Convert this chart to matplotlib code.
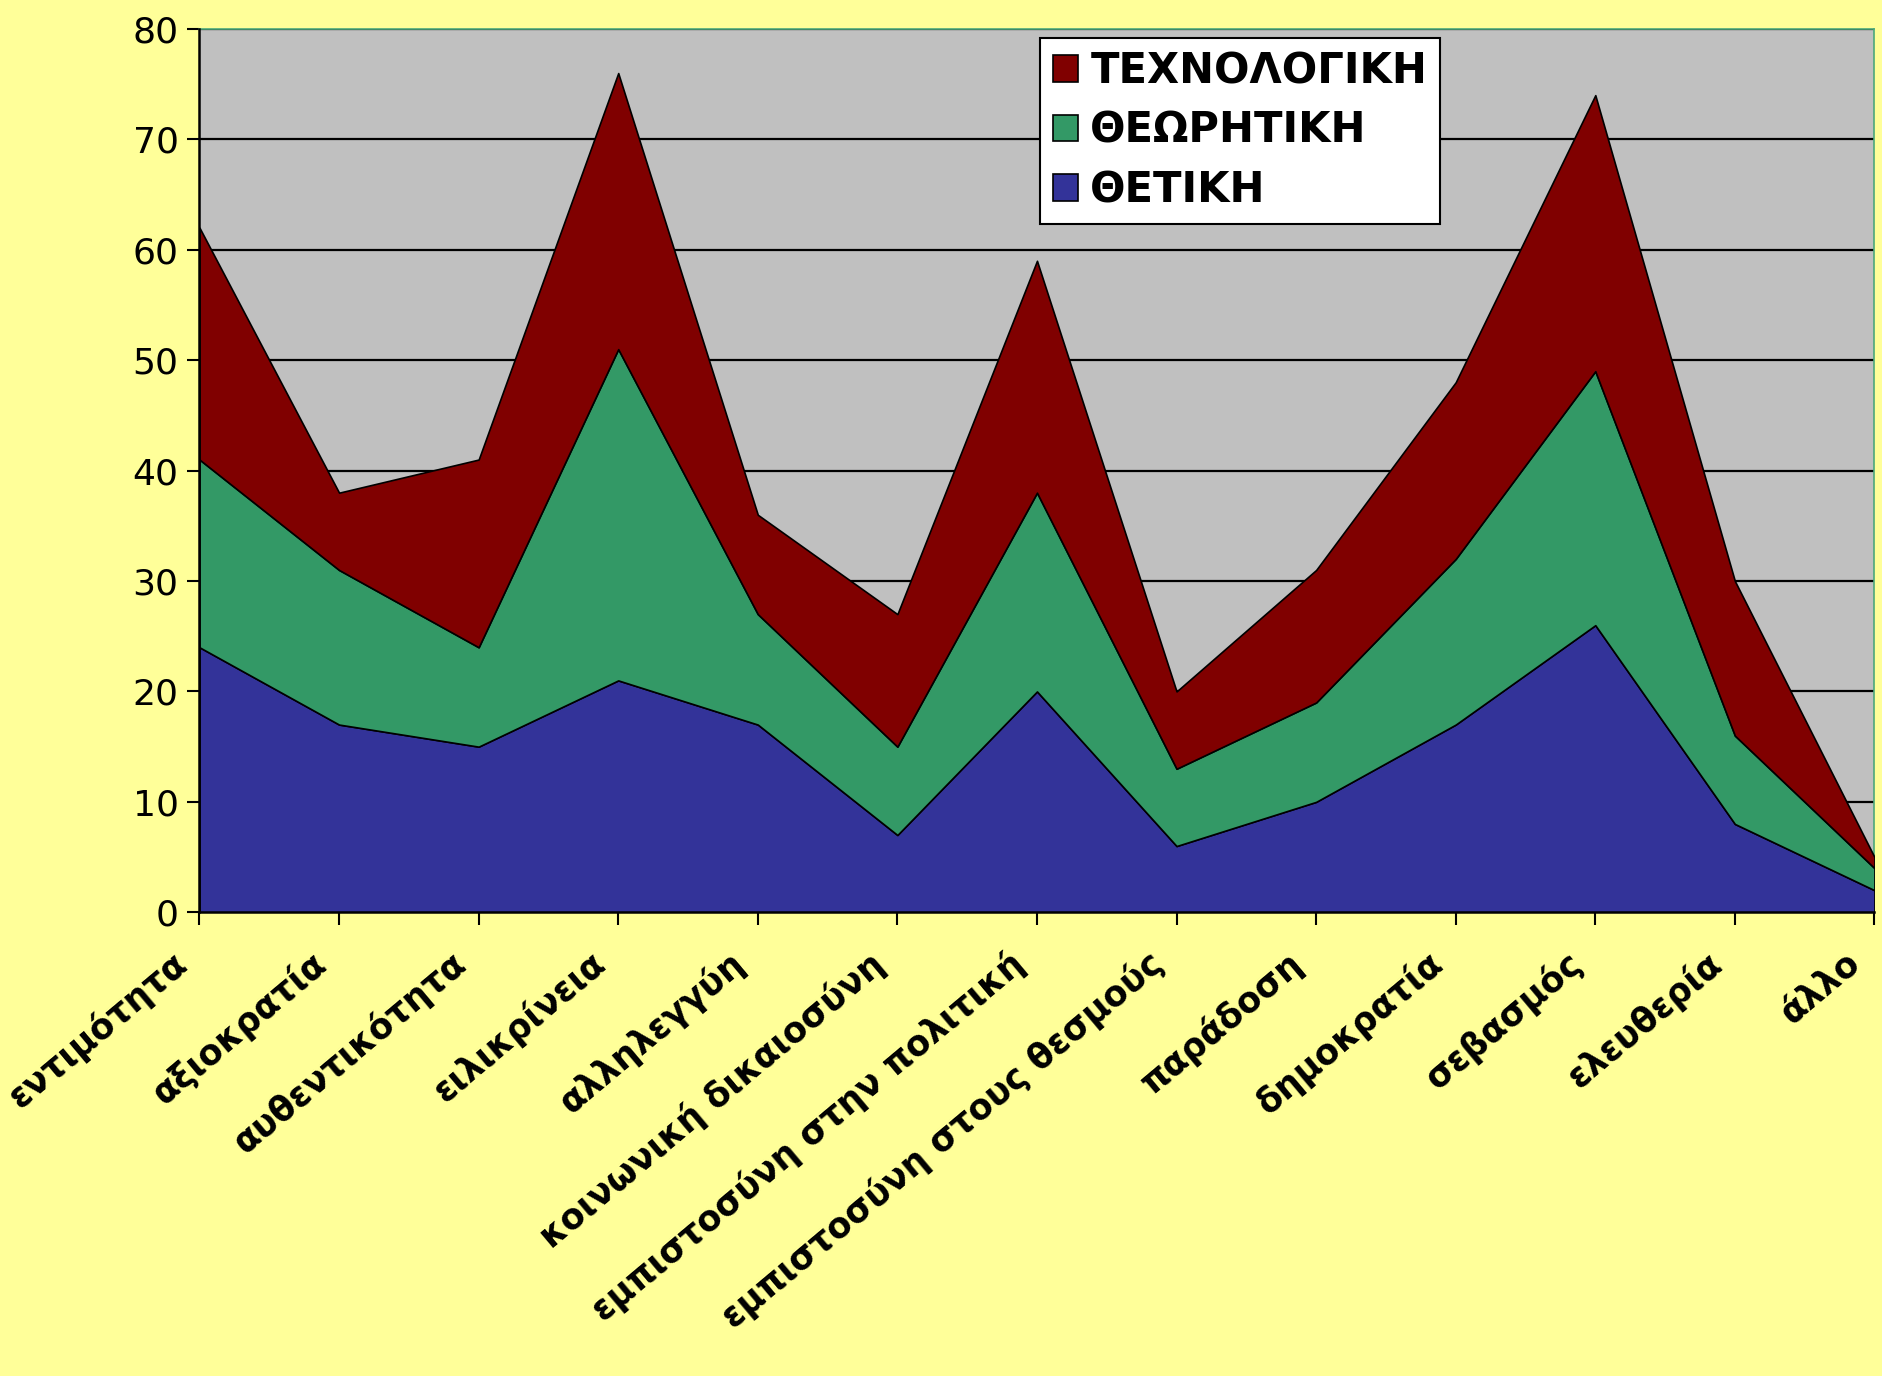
import matplotlib
matplotlib.use("Agg")
import matplotlib.pyplot as plt
from matplotlib.patches import Patch

# ── data ─────────────────────────────────────────────────────────────────────
categories = [
    "εντιμότητα", "αξιοκρατία", "αυθεντικότητα", "ειλικρίνεια", "αλληλεγγύη",
    "κοινωνική δικαιοσύνη", "εμπιστοσύνη στην πολιτική",
    "εμπιστοσύνη στους θεσμούς", "παράδοση", "δημοκρατία", "σεβασμός",
    "ελευθερία", "άλλο",
]
thetiki      = [24, 17, 15, 21, 17, 7, 20, 6, 10, 17, 26, 8, 2]
theoritiki   = [17, 14, 9, 30, 10, 8, 18, 7, 9, 15, 23, 8, 2]
technologiki = [21, 7, 17, 25, 9, 12, 21, 7, 12, 16, 25, 14, 1]
series_names = ["ΘΕΤΙΚΗ", "ΘΕΩΡΗΤΙΚΗ", "ΤΕΧΝΟΛΟΓΙΚΗ"]
y_ticks = [0, 10, 20, 30, 40, 50, 60, 70, 80]

COLORS = ["#333399", "#339966", "#800000"]
BG = "#FFFF99"

fig = plt.figure(figsize=(18.82, 13.76), dpi=100, facecolor=BG)
ax = fig.add_axes([0.106, 0.337, 0.89, 0.642])
ax.set_facecolor("#C0C0C0")

x = list(range(len(categories)))
ax.stackplot(x, thetiki, theoritiki, technologiki, colors=COLORS,
             edgecolor="black", linewidth=1.2, zorder=3)

ax.set_xlim(0, len(categories) - 1)
ax.set_ylim(0, 80)
ax.set_yticks(y_ticks)
ax.yaxis.grid(True, color="black", linewidth=1.6, zorder=1)
ax.set_axisbelow(True)

# category labels: rotated, ending a little left of / below each tick
ax.set_xticks(x)
ax.set_xticklabels([])
for xi, name in zip(x, categories):
    ax.annotate(name, xy=(xi, 0), xycoords=("data", "axes fraction"),
                xytext=(-21, -24), textcoords="offset points",
                rotation=40, ha="right", va="top", rotation_mode="anchor",
                fontsize=25, fontweight="bold", family="DejaVu Sans",
                annotation_clip=False)
ax.tick_params(axis="x", length=9, width=1.5)
ax.tick_params(axis="y", length=9, width=1.5, pad=6, labelsize=26)

for side in ("left", "bottom"):
    ax.spines[side].set_linewidth(1.8)
    ax.spines[side].set_zorder(5)
for side in ("top", "right"):
    ax.spines[side].set_color("#4CA87A")
    ax.spines[side].set_linewidth(1.2)

handles = [Patch(facecolor=c, edgecolor="black", linewidth=1.2)
           for c in COLORS]
leg = ax.legend(handles[::-1], series_names[::-1],
                loc="upper left", bbox_to_anchor=(0.502, 0.99),
                fancybox=False, framealpha=1, edgecolor="black",
                handlelength=0.6, handleheight=0.6, handletextpad=0.3,
                labelspacing=0.42, borderpad=0.3, borderaxespad=0,
                prop={"family": "DejaVu Sans", "weight": "bold",
                      "size": 30})
leg.get_frame().set_linewidth(1.5)
leg.set_zorder(10)

fig.savefig("out.png", dpi=100, facecolor=BG)
